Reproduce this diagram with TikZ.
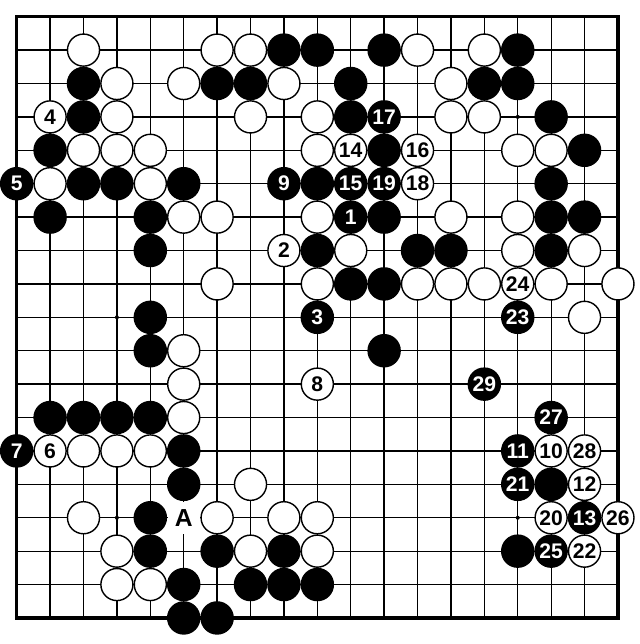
\documentclass[tikz,border=0pt]{standalone}
\usepackage{fontspec}
\setmainfont{Liberation Sans}

\begin{document}
\begin{tikzpicture}[x=1cm, y=-1cm,
blackstone/.style={circle, draw=black, fill=black, text=white, line width=1.2pt, minimum size=9.6mm, inner sep=0pt, font=\bfseries\fontsize{18}{18}\selectfont},
whitestone/.style={blackstone, fill=white, text=black},
starpoint/.style={circle, fill=black, minimum size=1.2mm, inner sep=0pt},
pointlabel/.style={fill=white, minimum size=9.6mm, inner sep=0pt, font=\bfseries\fontsize{21}{21}\selectfont},
]
\useasboundingbox (-0.5,-0.5) rectangle (18.66,18.78);

%Board
\draw[line width=1.1pt] (0,0) grid (18,18);
\draw[line width=2.8pt] (0,0) rectangle (18,18);
\foreach \c/\r in {3/3,9/3,15/3,3/9,9/9,15/9,3/15,9/15,15/15}
  \node[starpoint] (star-\c-\r) at (\c,\r) {};

%Stones
\foreach \c/\r in {8/1,9/1,11/1,15/1, 2/2,6/2,7/2,10/2,14/2,15/2, 2/3,10/3,16/3,
  1/4,11/4,17/4, 2/5,3/5,5/5,9/5,16/5, 1/6,4/6,11/6,16/6,17/6,
  4/7,9/7,12/7,13/7,16/7, 10/8,11/8, 4/9, 4/10,11/10, 1/12,2/12,3/12,4/12,
  5/13, 5/14,16/14, 4/15, 4/16,6/16,8/16,15/16, 5/17,7/17,8/17,9/17, 5/18,6/18}
  \node[blackstone] (black-\c-\r) at (\c,\r) {};
\foreach \c/\r in {2/1,6/1,7/1,12/1,14/1, 3/2,5/2,8/2,13/2, 3/3,7/3,9/3,13/3,14/3,
  2/4,3/4,4/4,9/4,15/4,16/4, 1/5,4/5, 5/6,6/6,9/6,13/6,15/6, 10/7,15/7,17/7,
  6/8,9/8,12/8,13/8,14/8,16/8,18/8, 17/9, 5/10, 5/11, 5/12, 2/13,3/13,4/13,
  7/14, 2/15,6/15,8/15,9/15, 3/16,7/16,9/16, 3/17,4/17}
  \node[whitestone] (white-\c-\r) at (\c,\r) {};

%Moves
\foreach \n/\c/\r in {1/10/6, 3/9/9, 5/0/5, 7/0/13, 9/8/5, 11/15/13, 13/17/15, 15/10/5,
  17/11/3, 19/11/5, 21/15/14, 23/15/9, 25/16/16, 27/16/12, 29/14/11}
  \node[blackstone] (move\n) at (\c,\r) {\n};
\foreach \n/\c/\r in {2/8/7, 4/1/3, 6/1/13, 8/9/11, 10/16/13, 12/17/14, 14/10/4,
  16/12/4, 18/12/5, 20/16/15, 22/17/16, 24/15/8, 26/18/15, 28/17/13}
  \node[whitestone] (move\n) at (\c,\r) {\n};
\node[pointlabel] (pointA) at (5,15) {A};
\end{tikzpicture}
\end{document}
